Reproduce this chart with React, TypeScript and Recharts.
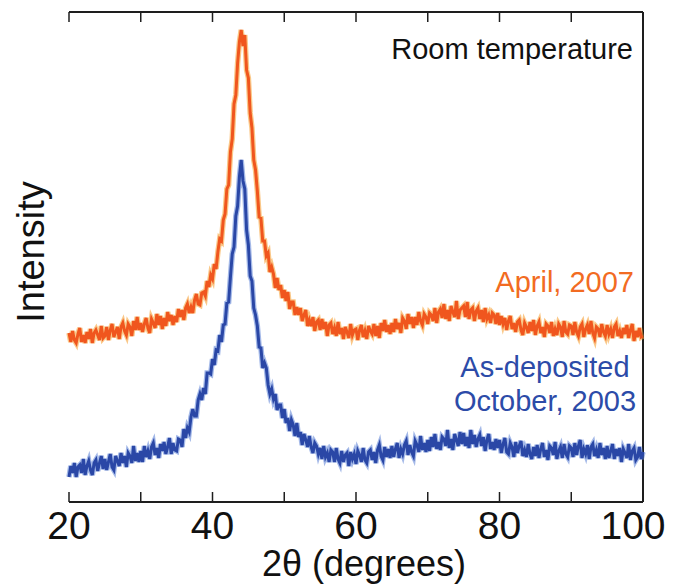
import React from 'react';
import { LineChart, Line, XAxis, YAxis, ReferenceLine } from 'recharts';

// XRD scans, 2θ from 20° to 100° in 0.25° steps (arbitrary intensity units)
const SCAN_START = 20;
const SCAN_STEP = 0.25;

const april2007 = [
  169, 160, 171, 162, 159, 168, 174, 160, 167, 159, 170, 163, 173, 159, 169, 172, 167, 162, 176, 164,
  166, 175, 162, 172, 178, 165, 170, 175, 163, 175, 179, 171, 167, 178, 175, 166, 181, 172, 185, 172,
  179, 170, 178, 184, 174, 169, 183, 179, 174, 188, 177, 186, 173, 184, 176, 190, 181, 187, 177, 186,
  180, 193, 185, 192, 182, 194, 198, 189, 195, 189, 202, 208, 198, 197, 209, 210, 206, 221, 215, 227,
  223, 238, 233, 250, 263, 261, 282, 288, 313, 317, 350, 363, 398, 407, 439, 460, 472, 456, 467, 432,
  424, 389, 374, 342, 332, 311, 285, 284, 261, 261, 246, 249, 230, 235, 228, 214, 224, 212, 217, 204,
  212, 201, 210, 193, 200, 200, 187, 195, 187, 194, 181, 187, 192, 176, 182, 176, 185, 171, 180, 182,
  172, 183, 173, 180, 166, 177, 179, 168, 174, 166, 180, 168, 174, 163, 175, 170, 164, 178, 167, 172,
  173, 162, 172, 177, 165, 171, 163, 176, 171, 168, 178, 166, 176, 164, 179, 171, 182, 170, 177, 168,
  179, 170, 183, 173, 179, 169, 184, 181, 173, 188, 178, 185, 174, 185, 177, 190, 181, 177, 188, 185,
  178, 189, 187, 181, 194, 179, 190, 193, 184, 198, 183, 192, 181, 196, 190, 185, 201, 183, 192, 194,
  196, 185, 200, 183, 192, 194, 181, 191, 194, 183, 192, 180, 194, 183, 187, 179, 189, 187, 178, 189,
  177, 186, 178, 184, 172, 181, 186, 173, 179, 170, 180, 182, 172, 167, 179, 175, 169, 180, 171, 182,
  167, 176, 180, 169, 175, 165, 178, 176, 169, 180, 166, 173, 167, 178, 175, 165, 181, 170, 168, 177,
  176, 167, 180, 170, 166, 175, 178, 165, 173, 177, 168, 181, 169, 164, 175, 173, 165, 178, 170, 166,
  177, 168, 173, 164, 175, 178, 166, 171, 164, 174, 168, 177, 164, 172, 178, 161, 171, 165, 174, 165,
  166,
];

const october2003 = [
  25, 36, 29, 39, 25, 35, 37, 29, 43, 27, 36, 41, 32, 27, 39, 42, 31, 39, 46, 33,
  43, 32, 40, 48, 35, 32, 46, 41, 36, 49, 39, 46, 35, 49, 46, 39, 56, 41, 49, 40,
  51, 40, 56, 45, 51, 43, 55, 59, 47, 54, 44, 58, 51, 60, 48, 55, 64, 48, 59, 52,
  51, 63, 62, 55, 73, 64, 74, 70, 85, 93, 86, 86, 102, 108, 102, 114, 108, 129, 129, 128,
  143, 137, 152, 151, 167, 160, 177, 178, 199, 200, 225, 248, 255, 286, 296, 325, 342, 321, 313, 272,
  257, 226, 221, 194, 187, 176, 155, 154, 134, 139, 134, 117, 108, 113, 103, 108, 92, 97, 97, 84,
  93, 79, 84, 71, 82, 77, 66, 79, 65, 70, 57, 68, 62, 55, 66, 55, 49, 59, 56, 48,
  54, 43, 56, 45, 49, 40, 52, 50, 40, 54, 43, 39, 51, 40, 47, 49, 36, 50, 43, 48,
  38, 51, 47, 40, 54, 42, 39, 50, 52, 42, 50, 39, 52, 57, 46, 42, 55, 45, 53, 44,
  56, 45, 53, 59, 44, 53, 48, 57, 61, 47, 57, 50, 46, 61, 57, 50, 66, 52, 59, 50,
  62, 51, 65, 55, 68, 53, 60, 52, 65, 63, 56, 72, 54, 63, 52, 68, 62, 56, 70, 58,
  69, 56, 65, 54, 72, 58, 67, 55, 63, 67, 56, 65, 51, 62, 68, 53, 60, 52, 63, 54,
  62, 49, 58, 64, 50, 48, 59, 55, 45, 60, 49, 56, 61, 46, 52, 45, 58, 48, 43, 55,
  46, 57, 44, 53, 59, 45, 52, 42, 56, 54, 47, 60, 43, 51, 55, 44, 58, 48, 45, 56,
  54, 45, 59, 47, 56, 62, 44, 53, 48, 57, 43, 55, 58, 46, 52, 44, 59, 47, 54, 43,
  56, 44, 51, 58, 43, 53, 46, 54, 40, 53, 49, 44, 58, 42, 51, 54, 42, 45, 55, 43,
  50,
];

const xTicks = [20, 30, 40, 50, 60, 70, 80, 90, 100];
const xTickLabels = ['20', '', '40', '', '60', '', '80', '', '100'];

const twoTheta = april2007.map((_, i) => SCAN_START + i * SCAN_STEP);
const data = twoTheta.map((t, i) => ({ t, april: april2007[i], october: october2003[i] }));

const X_DOMAIN: [number, number] = [20, 100];
const Y_DOMAIN: [number, number] = [0, 490];
const TICK_LEN = 10; // in intensity units (1 unit = 1 px here)

const FONT = '"Liberation Sans", Arial, Helvetica, sans-serif';
const AXIS = '#1e1e1e';
const ORANGE = '#F0561E';
const ORANGE_EDGE = '#F7A43A';
const BLUE = '#2A47A6';
const BLUE_EDGE = '#5A7FD6';

function BottomTick(props: any) {
  const { x, y, index } = props;
  const label = xTickLabels[index] ?? '';
  const isLast = index === xTicks.length - 1;
  return (
    <g>
      <line x1={x} x2={x} y1={y} y2={y - TICK_LEN} stroke={AXIS} strokeWidth={1.5} />
      {label && (
        <text
          x={isLast ? x - 10 : x}
          y={y + 37}
          textAnchor="middle"
          fontSize={39}
          fontFamily={FONT}
          fill="#111"
        >
          {label}
        </text>
      )}
    </g>
  );
}

export default function App() {
  return (
    <div style={{ position: 'absolute', left: 0, top: 0, background: '#fff' }}>
      <LineChart width={673} height={585} data={data} margin={{ top: 12, right: 30, bottom: 23, left: 69 }}>
        <XAxis
          dataKey="t"
          type="number"
          domain={X_DOMAIN}
          ticks={xTicks}
          interval={0}
          height={60}
          tickSize={0}
          tickMargin={0}
          tickLine={false}
          axisLine={{ stroke: AXIS, strokeWidth: 2 }}
          tick={<BottomTick />}
        />
        <YAxis
          type="number"
          domain={Y_DOMAIN}
          width={0}
          tick={false}
          tickLine={false}
          axisLine={{ stroke: AXIS, strokeWidth: 2 }}
        />

        {/* closing frame: top and right borders, inward ticks along the top */}
        <ReferenceLine y={Y_DOMAIN[1]} stroke={AXIS} strokeWidth={2} />
        <ReferenceLine x={X_DOMAIN[1]} stroke={AXIS} strokeWidth={2} />
        {xTicks.map((t) => (
          <ReferenceLine
            key={`top-${t}`}
            segment={[{ x: t, y: Y_DOMAIN[1] }, { x: t, y: Y_DOMAIN[1] - TICK_LEN }]}
            stroke={AXIS}
            strokeWidth={1.5}
          />
        ))}

        <Line dataKey="october" stroke={BLUE_EDGE} strokeWidth={5.5} strokeOpacity={0.55} dot={false} isAnimationActive={false} />
        <Line dataKey="october" stroke={BLUE} strokeWidth={3} dot={false} isAnimationActive={false} />
        <Line dataKey="april" stroke={ORANGE_EDGE} strokeWidth={5.5} strokeOpacity={0.6} dot={false} isAnimationActive={false} />
        <Line dataKey="april" stroke={ORANGE} strokeWidth={3} dot={false} isAnimationActive={false} />

        <g fontFamily={FONT}>
          <text x={633} y={59} textAnchor="end" fontSize={29} fill="#111">Room temperature</text>
          <text x={634} y={292} textAnchor="end" fontSize={29} fill="#F26B22">April, 2007</text>
          <text x={545} y={377} textAnchor="middle" fontSize={29} fill="#2C4BA8">As-deposited</text>
          <text x={545} y={411} textAnchor="middle" fontSize={29} fill="#2C4BA8">October, 2003</text>
          <text x={364} y={576} textAnchor="middle" fontSize={36} fill="#111">2θ (degrees)</text>
          <text x={44} y={252} textAnchor="middle" fontSize={38} fill="#111" transform="rotate(-90 44 252)">Intensity</text>
        </g>
      </LineChart>
    </div>
  );
}
